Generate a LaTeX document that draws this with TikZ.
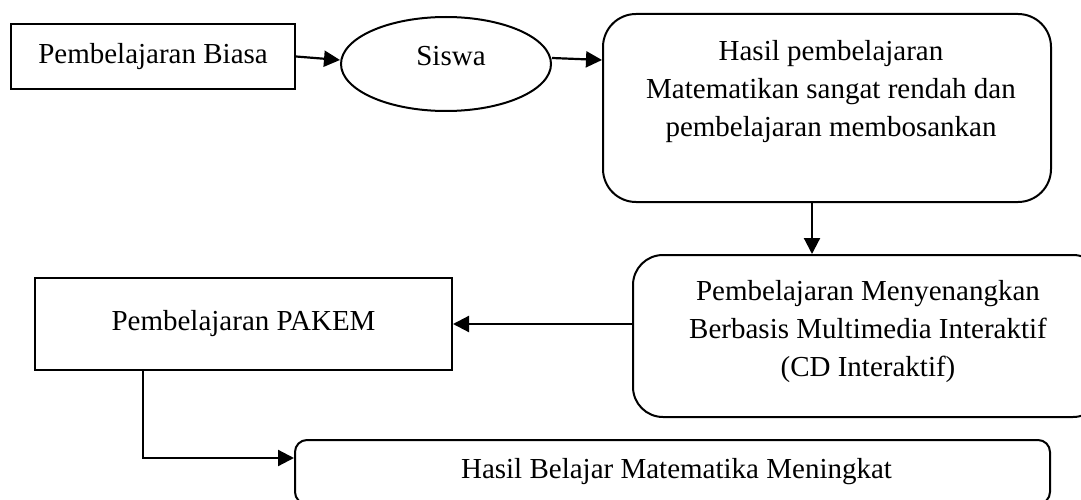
\documentclass[tikz,border=0pt]{standalone}
\usepackage{fontspec}
\setmainfont{Liberation Serif}
\usetikzlibrary{arrows.meta,shapes.geometric}
\tikzset{
  every node/.style={font=\fontsize{29}{38}\selectfont, inner sep=0pt},
  sqbox/.style={draw, line width=2pt, rectangle, align=center},
  rbox/.style={sqbox, rounded corners=#1},
  ovalbox/.style={draw, line width=2pt, ellipse},
  txt/.style={align=center},
  arr/.style={draw, line width=2.2pt, -{Triangle[length=16pt,width=16pt]}}
}
\begin{document}
\begin{tikzpicture}[x=1pt,y=-1pt]
\useasboundingbox (0,0) rectangle (1081,500);
\clip (0,0) rectangle (1081,500);
% boxes
\node[sqbox, minimum width=284pt, minimum height=65pt] (biasa) at (153,56.5) {Pembelajaran Biasa};
\node[ovalbox, minimum width=210pt, minimum height=94pt] (siswa) at (446,64) {};
\node[txt] (siswatxt) at (451,56) {Siswa};
\node[rbox=33pt, minimum width=448pt, minimum height=188pt] (hasil) at (827,108) {};
\node[txt] (hasiltxt) at (831,92) {Hasil pembelajaran\\Matematikan sangat rendah dan\\pembelajaran membosankan};
\node[rbox=30pt, minimum width=470pt, minimum height=162pt] (menyen) at (868,336) {};
\node[txt] (menyentxt) at (868,331.5) {Pembelajaran Menyenangkan\\Berbasis Multimedia Interaktif\\(CD Interaktif)};
\node[sqbox, minimum width=417pt, minimum height=92pt] (pakem) at (243.5,324) {Pembelajaran PAKEM};
\node[rbox=12pt, minimum width=755pt, minimum height=64pt] (hasilbelajar) at (672.5,472) {};
\node[txt] (hasilbelajartxt) at (676.5,472) {Hasil Belajar Matematika Meningkat};
% connectors
\draw[arr] (biasa.east) -- ([yshift=4pt]siswa.west);
\draw[arr] ([yshift=6pt]siswa.east) -- (hasil.west |- 0,60);
\draw[arr] (hasil.south -| 812,0) -- (menyen.north -| 812,0);
\draw[arr] (menyen.west |- pakem.east) -- (pakem.east);
\draw[arr] (pakem.south -| 143,0) |- ([yshift=14pt]hasilbelajar.west);
\end{tikzpicture}
\end{document}
